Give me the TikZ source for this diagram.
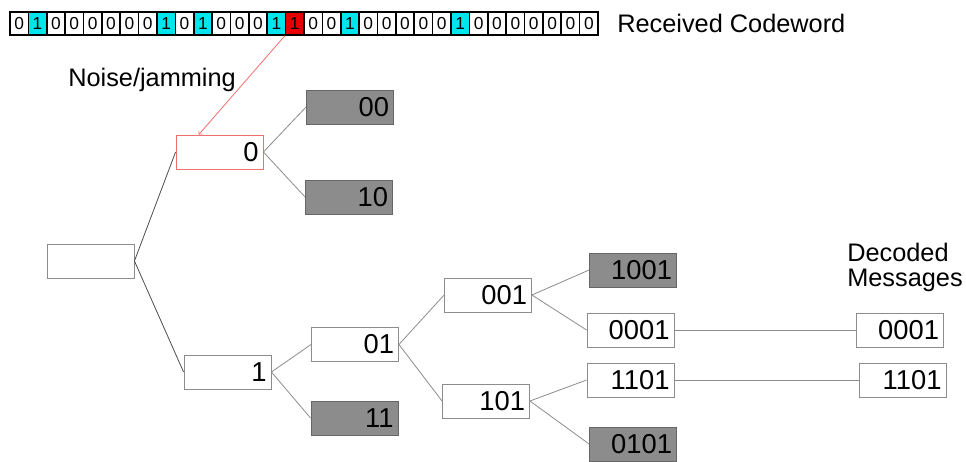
\documentclass[tikz,border=0pt]{standalone}
\usepackage{fontspec}
\setmainfont{Liberation Sans}
\definecolor{cellon}{RGB}{0,228,238}
\definecolor{cellerr}{RGB}{228,0,0}
\definecolor{boxgray}{RGB}{140,140,140}
\definecolor{noisered}{RGB}{240,112,112}
\tikzset{
  lbl/.style={font=\fontsize{19}{19}\selectfont,inner sep=0pt},
  cell/.style={draw=black,line width=1.2pt,minimum width=13.78pt,minimum height=17.25pt,inner sep=0pt,font=\fontsize{13}{13}\selectfont},
  msgbox/.style={draw=black!45,line width=0.6pt,text width=58.5pt,align=right,inner xsep=3.4pt,inner ysep=0pt,minimum height=25.5pt,font=\fontsize{20.5}{20.5}\selectfont},
  prunedbox/.style={msgbox,fill=boxgray,draw=black!60},
  edge/.style={draw=black!45,line width=0.6pt},
  rootedge/.style={draw=black!70,line width=0.6pt},
  noise/.style={draw=noisered,line width=0.6pt,->},
}
\begin{document}
\begin{tikzpicture}[x=0.75pt,y=-0.75pt]
\useasboundingbox (0,0) rectangle (966,461);
\pgfmathsetmacro{\kcw}{18.375}
\pgfmathsetmacro{\kcy}{23.5}
\foreach \b [count=\i from 0] in {0,1,0,0,0,0,0,0,1,0,1,0,0,0,1,1,0,0,1,0,0,0,0,0,1,0,0,0,0,0,0,0}{
  \ifnum\b=1 \def\kfill{cellon}\else\def\kfill{white}\fi
  \ifnum\i=15 \def\kfill{cellerr}\fi
  \node[cell,fill=\kfill](c\i) at (10+\kcw*\i+\kcw/2,\kcy){\b};}
\node[lbl,anchor=west](rx) at (617,\kcy){Received Codeword};
\node[lbl,anchor=base west](nz) at (68,86){Noise/jamming};
\node[lbl,anchor=north west,align=left,font=\fontsize{19}{18.75}\selectfont](dm) at (847,243){Decoded\\Messages};
\node[msgbox](root) at (90.5,261){};
\node[msgbox,draw=noisered](n0) at (219.5,152){0};
\foreach \nm/\x/\y/\t in {n1/227.5/372/1,n01/355/344.5/01,n001/488/295/001,n101/486/401/101,n0001/630.5/330/0001,n1101/630.5/380/1101,d0001/900/330/0001,d1101/902.5/380/1101}
  {\node[msgbox](\nm) at (\x,\y){\t};}
\foreach \nm/\x/\y/\t in {n00/350/107/00,n10/349/197/10,n11/354.5/418/11,n1001/633/270/1001,n0101/633/444/0101}
  {\node[prunedbox](\nm) at (\x,\y){\t};}
\foreach \a/\b in {root/n0,root/n1}{\draw[rootedge](\a.east)--(\b.west);}
\foreach \a/\b in {n0/n00,n0/n10,n1/n01,n1/n11,n01/n001,n01/n101,n001/n1001,n001/n0001,n101/n1101,n101/n0101,n0001/d0001,n1101/d1101}
  {\draw[edge](\a.east)--(\b.west);}
\draw[noise](c15.south west)--(n0.140);
\end{tikzpicture}
\end{document}
